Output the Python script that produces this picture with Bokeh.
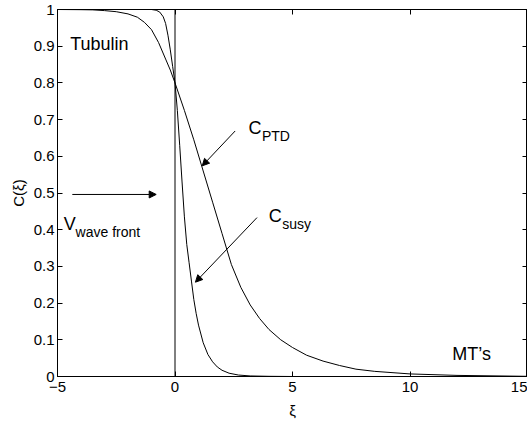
from bokeh.plotting import figure
from bokeh.models import (Arrow, NormalHead, ColumnDataSource, LinearAxis,
                          FixedTicker, Range1d, CustomJSTickFormatter)
from bokeh.core.properties import value
from bokeh.embed import file_html
from bokeh.resources import INLINE

# ---- data ----
xi_ptd = [-5, -4, -3.5, -3, -2.5, -2.0, -1.6, -1.3, -1.0, -0.7, -0.4, -0.2,
          0, 0.4, 0.8, 1.2, 1.6, 2.0, 2.4, 2.8, 3.2, 3.6, 4.0, 4.5, 5.0,
          5.6, 6.3, 7.0, 7.7, 8.5, 10, 12, 15]
c_ptd = [1.0, 0.9995, 0.999, 0.997, 0.994, 0.988, 0.979, 0.965, 0.945, 0.91, 0.865, 0.835,
         0.80, 0.725, 0.645, 0.56, 0.475, 0.39, 0.305, 0.243, 0.195, 0.158, 0.128, 0.10, 0.079,
         0.058, 0.042, 0.030, 0.020, 0.014, 0.007, 0.003, 0.0005]

xi_susy = [-5, -1.0, -0.8, -0.65, -0.5, -0.4, -0.3, -0.2, -0.1, 0, 0.1, 0.2, 0.3, 0.4, 0.5,
           0.6, 0.7, 0.8, 0.9, 1.0, 1.2, 1.4, 1.6, 1.8, 2.0, 2.3, 2.7, 3.2, 4.0, 5.0, 15]
c_susy = [1.0, 1.0, 0.998, 0.993, 0.98, 0.962, 0.93, 0.89, 0.845, 0.80, 0.725, 0.63, 0.53,
          0.435, 0.36, 0.31, 0.26, 0.21, 0.172, 0.14, 0.092, 0.06, 0.04, 0.026, 0.017, 0.009,
          0.004, 0.0015, 0.0005, 0.0, 0.0]

front_x = [0, 0]
front_y = [0, 1]

x_ticks = [-5, 0, 5, 10, 15]
x_tick_labels = ["\u22125", "0", "5", "10", "15"]
y_ticks = [0, 0.1, 0.2, 0.3, 0.4, 0.5, 0.6, 0.7, 0.8, 0.9, 1.0]
y_tick_labels = ["0", "0.1", "0.2", "0.3", "0.4", "0.5", "0.6", "0.7", "0.8", "0.9", "1"]

arrow_x_start = [-4.37, 2.56, 3.49]
arrow_y_start = [0.496, 0.669, 0.433]
arrow_x_end = [-0.80, 1.16, 0.87]
arrow_y_end = [0.496, 0.574, 0.257]

label_text = ["Tubulin", "MT\u2019s", "C", "C", "V"]
label_x = [-4.46, 11.8, 3.13, 3.99, -4.73]
label_y = [0.905, 0.06, 0.676, 0.437, 0.415]

sub_text = ["PTD", "susy", "wave front"]
sub_x = [3.70, 4.56, -4.23]
sub_y = [0.655, 0.415, 0.393]

FONT = "Liberation Sans"

p = figure(width=527, height=421, output_backend="svg", toolbar_location=None,
           x_range=Range1d(-5, 15), y_range=Range1d(0, 1),
           min_border_left=57, min_border_right=0, min_border_top=9, min_border_bottom=30)
p.grid.visible = False
p.outline_line_color = "black"
p.outline_line_width = 1
p.background_fill_color = "white"
p.border_fill_color = "white"

def lookup_formatter(tv, lb):
    return CustomJSTickFormatter(args=dict(tv=tv, lb=lb), code="""
        let i = 0, b = 1e9;
        for (let k = 0; k < tv.length; k++) {
            const d = Math.abs(tv[k] - tick);
            if (d < b) { b = d; i = k; }
        }
        return lb[i];
    """)

def style_axis(ax):
    ax.axis_line_color = "black"
    ax.axis_line_width = 1
    ax.major_tick_in = 5
    ax.major_tick_out = 0
    ax.minor_tick_in = 0
    ax.minor_tick_out = 0
    ax.major_tick_line_color = "black"
    ax.major_label_text_font = FONT
    ax.major_label_text_font_size = "15px"
    ax.major_label_text_color = "black"
    ax.axis_label_text_font = FONT
    ax.axis_label_text_font_size = "15px"
    ax.axis_label_text_font_style = "normal"
    ax.axis_label_text_color = "black"

xa = p.xaxis[0]
xa.ticker = FixedTicker(ticks=x_ticks)
xa.formatter = lookup_formatter(x_ticks, x_tick_labels)
xa.axis_label = "\u03be"
style_axis(xa)
xa.major_label_standoff = 5
xa.axis_label_standoff = 7

ya = p.yaxis[0]
ya.ticker = FixedTicker(ticks=y_ticks)
ya.formatter = lookup_formatter(y_ticks, y_tick_labels)
ya.axis_label = "C(\u03be)"
style_axis(ya)
ya.major_label_standoff = 3
ya.axis_label_standoff = 4

blank = CustomJSTickFormatter(code="return '';")
top = LinearAxis(ticker=FixedTicker(ticks=x_ticks), formatter=blank)
style_axis(top)
top.major_label_standoff = 0
top.major_label_text_font_size = "0px"
p.add_layout(top, "above")
right = LinearAxis(ticker=FixedTicker(ticks=y_ticks), formatter=blank)
style_axis(right)
right.major_label_standoff = 0
right.major_label_text_font_size = "0px"
p.add_layout(right, "right")

p.line(xi_ptd, c_ptd, line_color="black", line_width=1)
p.line(xi_susy, c_susy, line_color="black", line_width=1)
p.line(front_x, front_y, line_color="black", line_width=1)

asrc = ColumnDataSource(dict(x0=arrow_x_start, y0=arrow_y_start, x1=arrow_x_end, y1=arrow_y_end))
p.add_layout(Arrow(source=asrc, x_start="x0", y_start="y0", x_end="x1", y_end="y1",
                   line_color="black", line_width=1,
                   end=NormalHead(size=7, fill_color="black", line_color="black", line_width=1)))

lsrc = ColumnDataSource(dict(x=label_x, y=label_y, t=label_text))
p.text(x="x", y="y", text="t", source=lsrc, text_font=value(FONT), text_font_size="18px",
       text_align="left", text_baseline="alphabetic", text_color="black")
ssrc = ColumnDataSource(dict(x=sub_x, y=sub_y, t=sub_text))
p.text(x="x", y="y", text="t", source=ssrc, text_font=value(FONT), text_font_size="14px",
       text_align="left", text_baseline="alphabetic", text_color="black")

open("out.html", "w").write(file_html(p, INLINE))
